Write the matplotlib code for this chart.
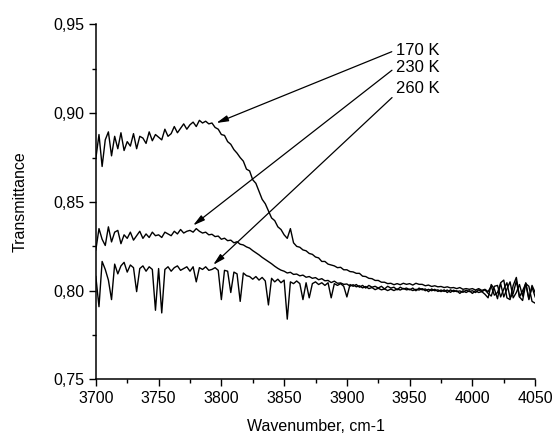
"""FTIR transmittance spectra at three temperatures (3700-4050 cm-1)."""

import matplotlib.pyplot as plt
import numpy as np

plt.rcParams["font.family"] = ["Liberation Sans", "DejaVu Sans"]

# wavenumber grid: 3700 ... 4050 cm-1, 2.5 cm-1 step (141 points)
WN_START = 3700.0
WN_STEP = 2.5

# transmittance, rows of 10 points (25 cm-1 each)
t_170 = [
    0.8745, 0.8880, 0.8700, 0.8850, 0.8895, 0.8760, 0.8870, 0.8800, 0.8890, 0.8790,
    0.8840, 0.8815, 0.8885, 0.8800, 0.8870, 0.8860, 0.8830, 0.8895, 0.8845, 0.8880,
    0.8865, 0.8850, 0.8910, 0.8870, 0.8885, 0.8925, 0.8890, 0.8915, 0.8940, 0.8910,
    0.8935, 0.8950, 0.8925, 0.8960, 0.8945, 0.8955, 0.8940, 0.8945, 0.8920, 0.8910,
    0.8880, 0.8875, 0.8840, 0.8825, 0.8795, 0.8775, 0.8750, 0.8730, 0.8685, 0.8675,
    0.8625, 0.8605, 0.8560, 0.8515, 0.8490, 0.8450, 0.8410, 0.8395, 0.8360, 0.8345,
    0.8315, 0.8295, 0.8350, 0.8270, 0.8250, 0.8245, 0.8230, 0.8225, 0.8210, 0.8205,
    0.8190, 0.8185, 0.8165, 0.8165, 0.8150, 0.8145, 0.8140, 0.8130, 0.8132, 0.8118,
    0.8118, 0.8108, 0.8106, 0.8098, 0.8098, 0.8082, 0.8080, 0.8070, 0.8068, 0.8058,
    0.8058, 0.8048, 0.8048, 0.8040, 0.8042, 0.8034, 0.8040, 0.8034, 0.8042, 0.8036,
    0.8040, 0.8032, 0.8042, 0.8036, 0.8036, 0.8028, 0.8032, 0.8024, 0.8028, 0.8022,
    0.8024, 0.8018, 0.8022, 0.8016, 0.8018, 0.8012, 0.8018, 0.8008, 0.8012, 0.8008,
    0.8012, 0.8004, 0.8012, 0.8002, 0.8008, 0.7995, 0.8025, 0.7975, 0.7990, 0.8040,
    0.7965, 0.8010, 0.8050, 0.7960, 0.7990, 0.8035, 0.7970, 0.8045, 0.7955, 0.8020,
    0.7965,
]

t_230 = [
    0.8230, 0.8350, 0.8290, 0.8255, 0.8360, 0.8275, 0.8330, 0.8340, 0.8265, 0.8315,
    0.8295, 0.8330, 0.8285, 0.8310, 0.8335, 0.8295, 0.8320, 0.8300, 0.8330, 0.8310,
    0.8315, 0.8300, 0.8330, 0.8320, 0.8310, 0.8335, 0.8320, 0.8345, 0.8325, 0.8335,
    0.8340, 0.8330, 0.8350, 0.8335, 0.8325, 0.8330, 0.8315, 0.8318, 0.8305, 0.8308,
    0.8290, 0.8296, 0.8282, 0.8285, 0.8270, 0.8276, 0.8262, 0.8258, 0.8247, 0.8240,
    0.8226, 0.8214, 0.8202, 0.8188, 0.8176, 0.8164, 0.8152, 0.8138, 0.8126, 0.8116,
    0.8110, 0.8100, 0.8104, 0.8092, 0.8094, 0.8084, 0.8088, 0.8076, 0.8080, 0.8070,
    0.8074, 0.8062, 0.8068, 0.8056, 0.8058, 0.8046, 0.8054, 0.8042, 0.8044, 0.8036,
    0.8038, 0.8026, 0.8034, 0.8022, 0.8028, 0.8016, 0.8024, 0.8012, 0.8018, 0.8006,
    0.8014, 0.8005, 0.8010, 0.8001, 0.8009, 0.8001, 0.8010, 0.8004, 0.8013, 0.8005,
    0.8009, 0.8001, 0.8008, 0.8004, 0.8012, 0.8000, 0.8008, 0.8000, 0.8008, 0.7996,
    0.8004, 0.7996, 0.8004, 0.7991, 0.8003, 0.7995, 0.7999, 0.7991, 0.8003, 0.7995,
    0.8000, 0.7990, 0.8005, 0.7995, 0.8005, 0.7985, 0.7970, 0.8025, 0.8030, 0.7965,
    0.8010, 0.8045, 0.7960, 0.7985, 0.8055, 0.7965, 0.8000, 0.8040, 0.7950, 0.8030,
    0.7990,
]

t_260 = [
    0.8080, 0.7910, 0.8165, 0.8120, 0.8060, 0.7950, 0.8150, 0.8095, 0.8140, 0.8160,
    0.8105, 0.8145, 0.8130, 0.7995, 0.8125, 0.8140, 0.8110, 0.8135, 0.8120, 0.7890,
    0.8125, 0.7875, 0.8120, 0.8135, 0.8110, 0.8130, 0.8140, 0.8115, 0.8125, 0.8135,
    0.8110, 0.8135, 0.8050, 0.8130, 0.8120, 0.8135, 0.8115, 0.8120, 0.8130, 0.8115,
    0.7950, 0.8115, 0.8110, 0.7990, 0.8105, 0.8095, 0.7940, 0.8100, 0.8085, 0.8080,
    0.8065, 0.8080, 0.8060, 0.8075, 0.8055, 0.7920, 0.8070, 0.8050, 0.8065, 0.8045,
    0.8060, 0.7840, 0.8050, 0.8040, 0.8055, 0.8040, 0.7950, 0.8045, 0.7960, 0.8040,
    0.8050, 0.8035, 0.8045, 0.8030, 0.8045, 0.7960, 0.8040, 0.8030, 0.8040, 0.8025,
    0.7965, 0.8035, 0.8025, 0.8035, 0.8020, 0.8030, 0.8015, 0.8030, 0.8020, 0.8025,
    0.8015, 0.8025, 0.8010, 0.8025, 0.8015, 0.8020, 0.8005, 0.8020, 0.8010, 0.8015,
    0.8005, 0.8015, 0.8000, 0.8015, 0.8005, 0.8010, 0.7995, 0.8010, 0.8000, 0.8005,
    0.7995, 0.8005, 0.7990, 0.8005, 0.7995, 0.8000, 0.7985, 0.8000, 0.7990, 0.8000,
    0.7985, 0.8000, 0.7990, 0.7995, 0.7980, 0.7960, 0.8035, 0.8010, 0.7955, 0.8045,
    0.8060, 0.7960, 0.7950, 0.8030, 0.8075, 0.7965, 0.7945, 0.8040, 0.8025, 0.7940,
    0.7930,
]

series = [t_170, t_230, t_260]

# annotation labels, their anchor (text) and arrow targets
labels = ["170 K", "230 K", "260 K"]
label_xy = [(3939.0, 0.9356), (3939.0, 0.9255), (3939.0, 0.9142)]
arrow_xy = [(3796.0, 0.8945), (3777.5, 0.8368), (3793.5, 0.8146)]
arrow_relpos = [(0.0, 0.5), (0.0, 0.55), (0.0, 0.1)]

x_ticks = [3700, 3750, 3800, 3850, 3900, 3950, 4000, 4050]
y_ticks = [0.75, 0.80, 0.85, 0.90, 0.95]
y_tick_labels = ["0,75", "0,80", "0,85", "0,90", "0,95"]

fig = plt.figure(figsize=(5.54, 4.34), dpi=100)
ax = fig.add_axes([0.173, 0.1256, 0.793, 0.818])

for vals in series:
    wn = WN_START + WN_STEP * np.arange(len(vals))
    ax.plot(wn, vals, color="black", linewidth=1.0)

for text, txy, axy, rp in zip(labels, label_xy, arrow_xy, arrow_relpos):
    ax.annotate(
        text, xy=axy, xytext=txy,
        ha="left", va="center", fontsize=12,
        arrowprops=dict(
            arrowstyle="-|>,head_length=0.7,head_width=0.18",
            color="black", lw=0.9, shrinkA=1, shrinkB=0,
            relpos=rp, mutation_scale=10,
        ),
    )

ax.set_xlim(3700, 4050)
ax.set_ylim(0.75, 0.95)
ax.set_xticks(x_ticks)
ax.set_xticks(np.arange(3725, 4050, 50), minor=True)
ax.set_yticks(y_ticks, y_tick_labels)
ax.set_yticks(np.arange(0.775, 0.95, 0.05), minor=True)

for side in ("top", "right"):
    ax.spines[side].set_visible(False)
for side in ("left", "bottom"):
    ax.spines[side].set_linewidth(1.1)

ax.tick_params(which="major", direction="out", length=5, width=1.0, labelsize=11.5)
ax.tick_params(which="minor", direction="out", length=3, width=1.0)

ax.set_xlabel("Wavenumber, cm-1", fontsize=11.5, labelpad=9)
ax.set_ylabel("Transmittance", fontsize=11.5, labelpad=18)

fig.savefig("out.png", dpi=100)
plt.close(fig)
